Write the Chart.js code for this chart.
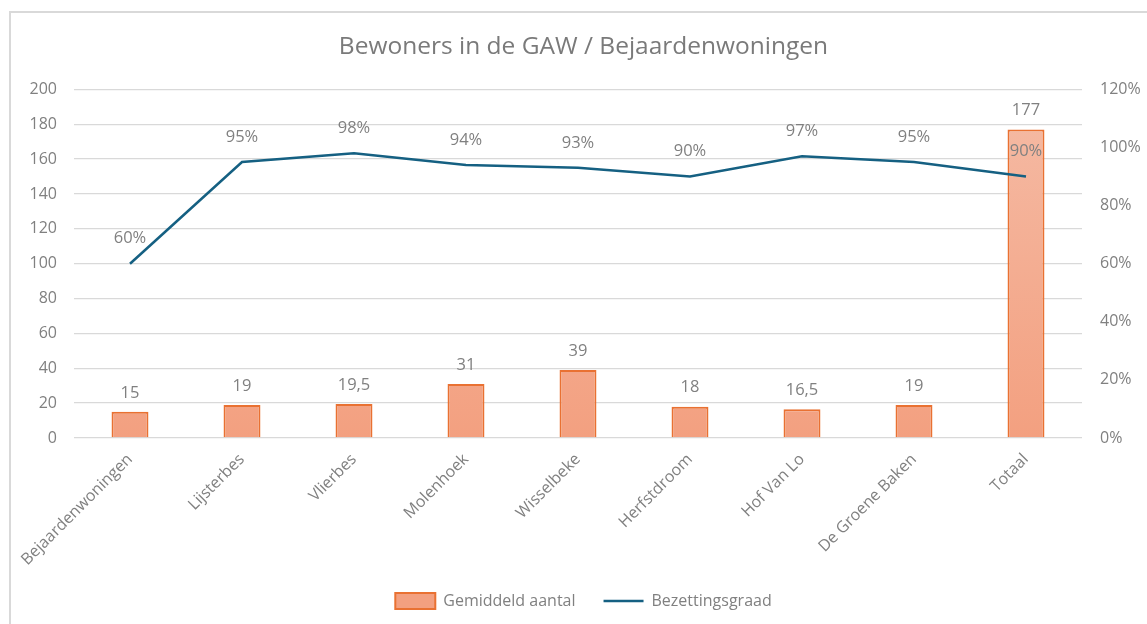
<!DOCTYPE html>
<html>
<head>
<meta charset="utf-8">
<script src="https://cdn.jsdelivr.net/npm/chart.js@4.4.1/dist/chart.umd.min.js"></script>
<style>
  html, body { margin: 0; padding: 0; background: #ffffff; }
  #wrap { position: relative; width: 1147px; height: 624px; overflow: hidden; background: #fff; }
  #frame { position: absolute; left: 9px; top: 11px; width: 1200px; height: 700px; border: 2px solid #d9d9d9; box-sizing: border-box; }
  #c { position: absolute; left: 0; top: 0; }
</style>
</head>
<body>
<div id="wrap">
  <div id="frame"></div>
  <canvas id="c" width="1147" height="624"></canvas>
</div>
<script>
const categories = ['Bejaardenwoningen', 'Lijsterbes', 'Vlierbes', 'Molenhoek', 'Wisselbeke', 'Herfstdroom', 'Hof Van Lo', 'De Groene Baken', 'Totaal'];
const avgResidents = [15, 19, 19.5, 31, 39, 18, 16.5, 19, 177];
const occupancyPct = [60, 95, 98, 94, 93, 90, 97, 95, 90];
const leftTicks = [0, 20, 40, 60, 80, 100, 120, 140, 160, 180, 200];
const rightTicks = [0, 20, 40, 60, 80, 100, 120];
const titleText = 'Bewoners in de GAW / Bejaardenwoningen';
const seriesNames = ['Gemiddeld aantal', 'Bezettingsgraad'];

const FONT = "'Open Sans', 'Noto Sans', sans-serif";
const TEXT = '#808080';

function barFill(ctx) {
  const chart = ctx.chart;
  const area = chart.chartArea;
  if (!area) return '#f4ab90';
  const g = chart.ctx.createLinearGradient(0, area.top, 0, area.bottom);
  g.addColorStop(0, '#f5bba5');
  g.addColorStop(1, '#f3a080');
  return g;
}

const labelPlugin = {
  id: 'valueLabels',
  afterDatasetsDraw(chart) {
    const ctx = chart.ctx;
    ctx.save();
    ctx.font = "16.5px " + FONT;
    ctx.fillStyle = TEXT;
    ctx.textAlign = 'center';
    ctx.textBaseline = 'middle';
    chart.data.datasets.forEach((ds, di) => {
      const meta = chart.getDatasetMeta(di);
      meta.data.forEach((el, i) => {
        const v = ds.data[i];
        if (ds.type === 'bar') {
          ctx.fillText(String(v).replace('.', ','), el.x, el.y - 19);
        } else {
          ctx.fillText(v + '%', el.x, el.y - 25);
        }
      });
    });
    ctx.restore();
  }
};

new Chart(document.getElementById('c'), {
  data: {
    labels: categories,
    datasets: [
      {
        type: 'line',
        label: seriesNames[1],
        data: occupancyPct,
        yAxisID: 'y1',
        borderColor: '#156082',
        backgroundColor: '#156082',
        borderWidth: 2.5,
        pointRadius: 0,
        pointStyle: 'line',
        tension: 0,
        order: 0
      },
      {
        type: 'bar',
        label: seriesNames[0],
        data: avgResidents,
        yAxisID: 'y',
        backgroundColor: barFill,
        borderColor: '#e97132',
        borderWidth: 2,
        borderSkipped: 'bottom',
        categoryPercentage: 1,
        barPercentage: 0.33,
        pointStyle: 'rect',
        order: 1
      }
    ]
  },
  options: {
    responsive: false,
    animation: false,
    layout: { padding: { top: 12, left: 20, right: 0, bottom: 5 } },
    plugins: {
      title: {
        display: true,
        text: titleText,
        color: '#7a7a7a',
        font: { family: FONT, size: 24.5, weight: 'normal' },
        padding: { top: 20, bottom: 28 }
      },
      legend: {
        position: 'bottom',
        reverse: true,
        labels: {
          color: TEXT,
          font: { family: FONT, size: 16 },
          usePointStyle: true,
          pointStyleWidth: 40,
          padding: 28
        }
      },
      tooltip: { enabled: false }
    },
    scales: {
      x: {
        offset: true,
        grid: { display: false },
        border: { display: false },
        ticks: {
          color: TEXT,
          font: { family: FONT, size: 16 },
          maxRotation: 45,
          minRotation: 45,
          padding: 4,
          autoSkip: false
        },
        afterFit(s) { s.height = 127; }
      },
      y: {
        position: 'left',
        min: 0,
        max: 200,
        afterBuildTicks(s) { s.ticks = leftTicks.map(v => ({ value: v })); },
        grid: { color: '#d9d9d9', lineWidth: 1.3, drawTicks: false },
        border: { display: false },
        ticks: {
          color: TEXT,
          font: { family: FONT, size: 16 },
          padding: 17
        },
        afterFit(s) { s.width = 54; }
      },
      y1: {
        position: 'right',
        min: 0,
        max: 120,
        afterBuildTicks(s) { s.ticks = rightTicks.map(v => ({ value: v })); },
        grid: { display: false, drawTicks: false },
        border: { display: false },
        ticks: {
          color: TEXT,
          font: { family: FONT, size: 16 },
          padding: 18,
          callback: v => v + '%'
        },
        afterFit(s) { s.width = 65; }
      }
    }
  },
  plugins: [labelPlugin]
});
</script>
</body>
</html>
